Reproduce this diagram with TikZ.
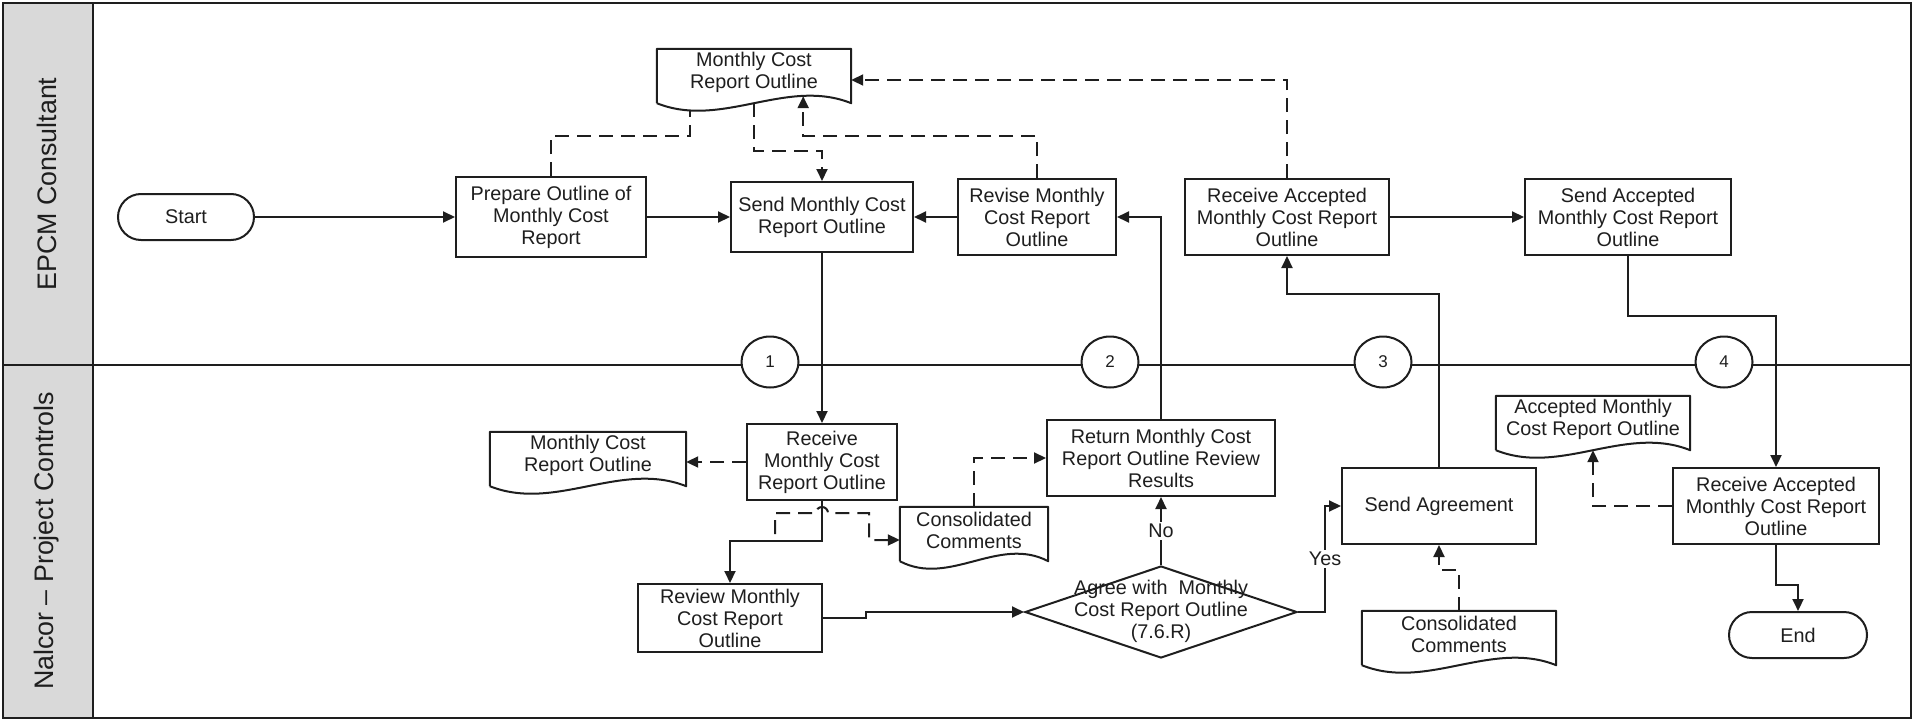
\documentclass[tikz,border=0pt]{standalone}
\usepackage{fontspec}
\setmainfont{Liberation Sans}
\usetikzlibrary{arrows.meta,shapes.geometric,calc}

\definecolor{ink}{HTML}{1E1E1E}
\definecolor{lanegray}{HTML}{D9D9D9}

% outline of a document symbol around a text node: flat top, wavy bottom
\newcommand\docframe[1]{%
  \draw[ink, line width=2pt, line join=round]
    ($(#1.south west)+(0,8)$) -- (#1.north west) -- (#1.north east) -- ($(#1.south east)+(0,8)$)
    .. controls ($(#1.south east)!0.3333!(#1.south west)+(0,-18)$)
           and ($(#1.south west)!0.3333!(#1.south east)+(0,34)$) .. ($(#1.south west)+(0,8)$);}

\begin{document}
\begin{tikzpicture}[x=1pt,y=-1pt,
  every node/.style={font=\fontsize{19.8}{22}\selectfont, text=ink},
  base/.style={draw=ink, line width=2pt, fill=white, align=center, inner sep=0pt},
  task/.style={base, rectangle},
  terminal/.style={base, rectangle, rounded corners=23pt, minimum height=46},
  decision/.style={base, diamond, minimum width=272, minimum height=92},
  docnode/.style={align=center, inner sep=0pt, minimum height=46},
  pageref/.style={base, ellipse, minimum width=57, minimum height=51, font=\fontsize{17}{20}\selectfont},
  lanelabel/.style={rotate=90, font=\fontsize{26.8}{30}\selectfont},
  flow/.style={draw=ink, line width=2pt, -{Triangle[length=12pt,width=11pt]}},
  link/.style={draw=ink, line width=2pt, dash pattern=on 14pt off 8pt},
  linkarrow/.style={link, -{Triangle[length=12pt,width=11pt]}},
  tag/.style={fill=white, inner sep=2pt}]

\useasboundingbox (0,0) rectangle (1919,720);

% swimlane frame
\fill[lanegray] (3,3) rectangle (93,718);
\draw[ink, line width=2.6pt] (3,3) rectangle (1911,718);
\draw[ink, line width=2.4pt] (93,3) -- (93,718);
\draw[ink, line width=2.4pt] (3,365) -- (1911,365);
\node[lanelabel] (laneA) at (47,184) {EPCM Consultant};
\node[lanelabel] (laneB) at (47,541) {Nalcor -- Project Controls};

% EPCM Consultant lane
\node[terminal, minimum width=136] (start) at (186,217) {Start};
\node[task, minimum width=190, minimum height=80] (prep) at (551,217) {Prepare Outline of\\Monthly Cost\\Report};
\node[task, minimum width=182, minimum height=70] (send) at (822,217) {Send Monthly Cost\\Report Outline};
\node[task, minimum width=158, minimum height=76] (revise) at (1037,217) {Revise Monthly\\Cost Report\\Outline};
\node[task, minimum width=204, minimum height=76] (recacc) at (1287,217) {Receive Accepted\\Monthly Cost Report\\Outline};
\node[task, minimum width=206, minimum height=76] (sendacc) at (1628,217) {Send Accepted\\Monthly Cost Report\\Outline};
\node[docnode, minimum width=194] (doc1) at (754,72) {Monthly Cost\\Report Outline};
\docframe{doc1}

% Nalcor lane
\node[docnode, minimum width=196] (doc2) at (588,455) {Monthly Cost\\Report Outline};
\docframe{doc2}
\node[task, minimum width=150, minimum height=76] (rec) at (822,462) {Receive\\Monthly Cost\\Report Outline};
\node[task, minimum width=228, minimum height=76] (ret) at (1161,458) {Return Monthly Cost\\Report Outline Review\\Results};
\node[docnode, minimum width=148] (cc1) at (974,530) {Consolidated\\Comments};
\docframe{cc1}
\node[task, minimum width=184, minimum height=68] (review) at (730,618) {Review Monthly\\Cost Report\\Outline};
\node[decision] (agree) at (1161,612) {};
\node[align=center, inner sep=0pt] (agreetext) at (1161,611) {Agree with\ \ Monthly\\Cost Report Outline\\(7.6.R)};
\node[task, minimum width=194, minimum height=76] (sendagr) at (1439,506) {Send Agreement};
\node[docnode, minimum width=194] (cc2) at (1459,634) {Consolidated\\Comments};
\docframe{cc2}
\node[docnode, minimum width=194] (accdoc) at (1593,419) {Accepted Monthly\\Cost Report Outline};
\docframe{accdoc}
\node[task, minimum width=206, minimum height=76] (recacc2) at (1776,506) {Receive Accepted\\Monthly Cost Report\\Outline};
\node[terminal, minimum width=138] (end) at (1798,635) {End};

% off-page references on the lane boundary
\node[pageref] (c1) at (770,362) {1};
\node[pageref] (c2) at (1110,362) {2};
\node[pageref] (c3) at (1383,362) {3};
\node[pageref] (c4) at (1724,362) {4};

% sequence flow
\draw[flow] (start.east) -- (start.east -| prep.west);
\draw[flow] (prep.east) -- (prep.east -| send.west);
\draw[flow] (revise.west) -- (revise.west -| send.east);
\draw[flow] (recacc.east) -- (recacc.east -| sendacc.west);
\draw[flow] (send.south) -- (send.south |- rec.north);
\draw[flow] (ret.north) |- (revise.east);
\draw[flow] (sendagr.north) -- ++(0,-173) -| (recacc.south);
\draw[flow] (sendacc.south) -- ++(0,60) -| (recacc2.north);
\draw[flow] (rec.south) -- ++(0,40) -| (review.north);
\draw[flow] (review.east) -- ++(43,0) |- (agree.west);
\draw[flow] (agree.north) -- node[tag] (lblno) {No} (ret.south);
\draw[flow] (agree.east) -- ++(27,0) |- node[tag, pos=0.25] (lblyes) {Yes} (sendagr.west);
\draw[flow] (recacc2.south) -- ++(0,40) -| (end.north);

% document associations
\draw[link] (prep.north) -- ++(0,-40) -| ($(doc1.south west)!0.17!(doc1.south east)+(0,15)$);
\draw[linkarrow] ($(doc1.south)+(0,8)$) -- ++(0,48) -| (send.north);
\draw[linkarrow] (revise.north) -- ++(0,-42) -| ($(doc1.south west)!0.753!(doc1.south east)+(0,1)$);
\draw[linkarrow] (recacc.north) |- ($(doc1.east)+(0,8)$);
\draw[linkarrow] (rec.west) -- (rec.west -| doc2.east);
\coordinate (ccstub) at ($(rec.south)+(-47,33)$);
\coordinate (ccin) at ($(cc1.west)+(0,10)$);
\draw[linkarrow] (ccstub) -- ++(0,-21) -- ($(rec.south)+(-6,12)$) arc (180:360:6)
  -- ($(rec.south)+(47,12)$) |- (ccin);
\draw[linkarrow] (cc1.north) |- (ret.west);
\draw[linkarrow] (cc2.north) -- ++(0,-41) -| (sendagr.south);
\draw[linkarrow] (recacc2.west) -| ($(accdoc.south)+(0,8)$);

\end{tikzpicture}
\end{document}
